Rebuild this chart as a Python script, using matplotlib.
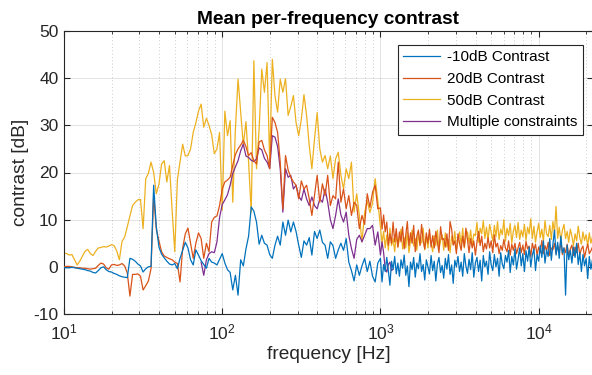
import numpy as np
import matplotlib
matplotlib.use("Agg")
from matplotlib import pyplot as plt
from matplotlib.ticker import LogLocator, MultipleLocator, NullFormatter

# frequency axis: 60 samples/decade below 1 kHz, 100 samples/decade above
freq = np.concatenate([np.logspace(1, 1 + 119 / 60, 120),
                       np.logspace(3, 3 + 135 / 100, 136)])

contrast_m10 = [
    # 10 Hz - 1 kHz
    -0.2, -0.2, -0.2, -0.1, -0.2, -0.3, -0.4, -0.5, -0.6, -0.8,
    -0.9, -1.2, -1.3, -0.8, -0.2, 0.0, -0.6, -1.0, -1.1, -1.4,
    -1.6, -1.9, -2.1, -2.2, -2.3, 1.8, 1.6, 1.2, 0.6, 0.2,
    -1.1, -0.4, 0.0, 0.1, 17.3, 8.5, 4.2, 2.7, 1.9, 1.2,
    0.6, 0.4, 0.7, -0.4, 1.8, 3.5, 5.2, 4.0, 1.5, 0.4,
    3.6, 2.5, 1.3, 0.5, -0.3, 1.8, 1.0, 0.8, 0.4, 1.6,
    2.8, 0.8, -0.6, -1.2, -4.9, -1.8, -6.0, 1.5, 0.2, 3.8,
    6.5, 12.7, 11.8, 9.5, 4.8, 6.7, 5.0, 4.6, 2.6, 1.8,
    4.6, 6.5, 4.6, 9.5, 6.7, 9.9, 7.4, 9.5, 7.5, 4.6,
    2.0, 5.5, 4.6, 6.2, 2.5, 7.5, 6.0, 7.8, 5.2, 4.6,
    1.8, 5.3, 4.5, 1.8, 3.6, 5.0, 3.5, 6.0, 1.0, -0.8,
    -3.0, 0.4, -1.8, 0.2, 1.8, -1.0, 1.2, -2.0, -3.2, 0.8,
    # 1 kHz - 22 kHz
    1.8, -3.2, 0.5, -1.0, 2.0, -0.8, -3.9, 1.2, -0.5, 2.2,
    -1.5, 0.8, -2.0, 1.5, -0.3, 2.5, -1.8, 0.2, -4.2, 1.0,
    -0.6, 2.0, -2.2, 0.8, -0.4, 2.8, -1.0, 0.5, -2.8, 1.5,
    0.0, -1.5, 2.4, -0.8, 1.2, -3.0, 0.6, 2.0, -1.2, 0.3,
    -2.4, 1.8, -0.5, 2.6, -1.6, 0.4, -3.5, 1.4, 0.0, 2.2,
    -1.0, 1.0, -2.0, 2.8, 0.2, -1.4, 1.6, -0.6, 3.0, -2.2,
    0.8, 2.0, -1.0, 1.4, -3.0, 2.4, 0.0, 1.2, -1.6, 3.2,
    0.4, -0.8, 2.6, 0.0, 1.8, -2.0, 3.0, 0.6, -0.4, 2.4,
    1.0, 3.5, -1.2, 2.2, 0.4, 3.8, -0.5, 1.6, 4.0, 0.2,
    2.8, -1.0, 3.4, 1.2, 4.2, 0.0, 2.5, 3.8, -0.8, 2.6,
    1.2, 4.5, 2.0, 5.5, 0.8, 3.6, 2.2, 6.0, 1.4, 4.8,
    7.8, 2.5, 5.2, 1.8, 6.5, 3.0, 4.0, -6.0, 4.6, 1.5,
    3.5, 0.8, 4.2, 2.0, 5.0, 0.5, 3.0, -1.0, 2.6, 0.2,
    1.8, -2.5, 2.2, -0.5, 1.5, 0.0,
]

contrast_20 = [
    0.0, 0.1, 0.1, 0.0, -0.1, -0.2, -0.2, -0.3, -0.3, -0.4,
    -0.5, -0.4, -0.3, 0.3, 0.8, 0.6, -0.2, -0.5, 0.4, 0.5,
    0.3, 0.4, 0.7, 0.2, -1.3, -6.2, -1.6, -1.6, -1.5, -2.0,
    -4.9, -4.0, -3.0, -0.4, 15.1, 8.0, 5.5, 3.2, 2.3, 2.0,
    1.7, 1.5, 1.0, 0.7, -3.2, 4.0, 7.0, 8.2, 5.0, 1.8,
    5.0, 7.2, 6.0, 1.8, 5.0, 3.2, 9.5, 10.5, 10.8, 13.0,
    16.5, 18.0, 18.4, 19.0, 21.5, 23.8, 25.0, 25.8, 26.8, 25.5,
    23.6, 24.2, 22.5, 21.8, 26.5, 26.8, 24.8, 23.6, 20.8, 31.7,
    30.6, 28.5, 22.2, 12.3, 23.6, 20.5, 19.0, 18.0, 17.3, 14.4,
    18.2, 16.5, 17.3, 14.4, 10.9, 15.1, 19.4, 13.7, 17.6, 15.1,
    19.4, 13.0, 15.1, 14.4, 22.2, 13.7, 16.5, 12.3, 15.1, 10.9,
    13.7, 13.0, 8.1, 10.9, 9.0, 15.5, 12.6, 15.8, 17.3, 12.3,
    12.5, 8.0, 11.0, 7.4, 9.5, 4.6, 7.0, 5.0, 9.5, 5.3,
    8.1, 4.2, 7.4, 5.3, 8.5, 3.8, 6.8, 9.6, 4.5, 7.2,
    5.0, 8.8, 3.2, 6.5, 7.8, 4.5, 9.0, 5.5, 3.8, 7.2,
    5.0, 8.0, 4.2, 6.6, 4.0, 7.5, 5.2, 3.0, 8.5, 5.8,
    6.0, 4.2, 7.0, 3.5, 9.6, 8.0, 4.6, 5.5, 2.8, 7.0,
    5.0, 3.5, 6.5, 4.2, 8.2, 5.8, 3.0, 6.0, 4.0, 5.5,
    2.5, 5.2, 7.5, 4.5, 6.5, 3.2, 5.0, 3.8, 6.2, 4.0,
    5.5, 3.0, 6.8, 4.2, 5.0, 2.8, 4.5, 3.5, 5.8, 4.0,
    3.2, 5.5, 2.5, 4.8, 3.5, 5.0, 2.8, 4.0, 5.2, 3.0,
    4.6, 2.6, 5.4, 3.8, 4.4, 2.2, 5.0, 3.6, 4.8, 2.5,
    4.2, 3.0, 5.6, 2.8, 4.5, 3.4, 5.2, 2.4, 4.0, 3.6,
    5.0, 2.8, 4.4, 3.2, 5.4, 2.6, 4.0, 3.0, 4.8, 2.2,
    3.8, 4.6, 2.4, 4.2, 3.0, 5.0, 2.6, 3.8, 4.4, 2.0,
    3.6, 4.8, 2.8, 3.4, 4.2, 3.0,
]

contrast_50 = [
    3.0, 2.8, 2.5, 2.6, 1.5, 0.4, 1.2, 2.3, 3.3, 3.7,
    2.8, 2.4, 3.3, 4.0, 4.1, 4.3, 4.2, 4.4, 4.7, 4.5,
    3.4, 1.5, 5.4, 6.3, 8.5, 10.8, 13.0, 13.7, 14.2, 14.3,
    8.1, 18.7, 19.8, 22.2, 20.0, 15.5, 17.5, 21.8, 22.5, 18.0,
    21.5, 12.0, 3.2, 18.5, 22.2, 26.0, 23.5, 23.6, 25.0, 28.5,
    30.5, 33.0, 34.5, 29.6, 31.5, 30.0, 28.0, 24.0, 25.0, 28.5,
    12.0, 33.0, 27.8, 31.0, 13.7, 29.3, 39.8, 32.8, 25.8, 30.8,
    22.2, 11.6, 43.7, 20.8, 29.3, 41.9, 37.0, 43.3, 22.2, 44.0,
    36.3, 32.8, 39.8, 37.0, 39.9, 32.1, 34.0, 36.3, 30.6, 27.8,
    31.3, 36.5, 32.1, 25.7, 20.8, 27.1, 32.7, 25.0, 22.2, 23.6,
    20.8, 23.5, 18.7, 22.9, 24.3, 19.4, 16.5, 20.8, 18.7, 22.2,
    11.6, 15.5, 10.9, 5.3, 11.5, 14.0, 11.5, 13.5, 18.7, 14.0,
    8.5, 5.0, 7.5, 4.0, 6.8, 3.5, 8.2, 4.5, 6.0, 3.2,
    7.0, 4.2, 5.8, 8.0, 3.8, 6.2, 4.0, 7.4, 3.0, 5.5,
    7.8, 4.4, 6.0, 3.5, 7.2, 4.8, 5.2, 8.2, 3.6, 6.4,
    4.0, 7.0, 5.0, 3.2, 6.6, 4.5, 7.8, 3.8, 5.6, 6.8,
    3.5, 7.2, 4.2, 5.8, 3.0, 6.5, 4.8, 7.5, 3.6, 5.4,
    7.4, 4.6, 8.2, 4.0, 6.6, 7.4, 5.0, 7.8, 4.6, 7.0,
    6.6, 9.4, 5.2, 8.2, 7.0, 9.8, 6.0, 8.4, 5.6, 9.0,
    7.2, 5.5, 8.8, 6.4, 9.6, 5.8, 8.0, 6.8, 10.0, 5.4,
    8.2, 6.6, 9.2, 5.0, 7.6, 8.8, 6.2, 9.4, 5.8, 7.8,
    6.4, 9.0, 5.6, 8.4, 7.0, 10.2, 6.0, 8.6, 5.2, 7.4,
    9.2, 6.2, 8.0, 5.4, 9.8, 7.0, 6.4, 8.8, 5.8, 9.6,
    7.2, 12.8, 6.0, 8.4, 5.5, 7.8, 9.0, 6.0, 7.5, 5.2,
    8.0, 6.5, 4.5, 7.0, 5.5, 8.6, 6.2, 4.8, 7.4, 5.6,
    6.8, 4.4, 7.2, 5.0, 6.4, 5.8,
]

# multiple constraints, drawn only where it is not hidden under the other curves
multi_start, multi_stop = 52, 129
contrast_multi = [
    1.0, -1.8, 1.5, 2.8, 3.2, 3.0, 5.3, 10.5,
    13.2, 14.2, 15.3, 17.3, 19.8, 21.2, 22.5, 24.6, 26.0, 23.5,
    23.2, 22.6, 22.3, 22.9, 25.2, 24.8, 23.0, 22.2, 20.8, 27.8,
    27.5, 25.5, 20.8, 11.6, 20.8, 19.0, 19.4, 16.5, 17.3, 15.0,
    14.1, 16.5, 14.4, 13.0, 14.8, 13.0, 12.3, 14.4, 13.7, 16.5,
    13.7, 10.0, 8.1, 10.9, 14.4, 11.0, 9.5, 11.6, 6.7, 3.9,
    1.8, 5.8, 6.7, 5.3, 6.7, 8.1, 8.1, 8.8, 4.6, 7.4,
    2.5, 5.3, 3.0, -0.4, -1.1, 0.5, 1.0, -0.8, -0.5,
]

labels = ["-10dB Contrast", "20dB Contrast", "50dB Contrast", "Multiple constraints"]
colors = ["#0072BD", "#D95319", "#EDB120", "#7E2F8E"]

plt.rcParams["font.family"] = ["Liberation Sans", "DejaVu Sans"]
plt.rcParams["mathtext.default"] = "regular"
plt.rcParams["axes.unicode_minus"] = False

fig = plt.figure(figsize=(5.92, 3.75), dpi=100)
ax = fig.add_axes([64 / 592, 61 / 375, 529 / 592, 283 / 375])

lw = 0.9
ax.plot(freq, contrast_m10, color=colors[0], lw=lw, label=labels[0], zorder=5)
ax.plot(freq, contrast_20, color=colors[1], lw=lw, label=labels[1], zorder=4)
ax.plot(freq, contrast_50, color=colors[2], lw=lw, label=labels[2], zorder=2)
ax.plot(freq[multi_start:multi_stop], contrast_multi, color=colors[3], lw=lw,
        label=labels[3], zorder=3)

ax.set_xscale("log")
ax.set_xlim(10, 22050)
ax.set_ylim(-10, 50)
ax.yaxis.set_major_locator(MultipleLocator(10))
ax.xaxis.set_major_locator(LogLocator(base=10, numticks=10))
ax.xaxis.set_minor_locator(LogLocator(base=10, subs=np.arange(2, 10), numticks=20))
ax.xaxis.set_minor_formatter(NullFormatter())

ax.grid(True, which="major", color="#262626", alpha=0.15, lw=0.6)
ax.grid(True, which="minor", axis="x", color="#262626", alpha=0.3, lw=0.6, ls=(0, (1, 3)))
ax.set_axisbelow(True)

for s in ax.spines.values():
    s.set_color("#262626")
    s.set_linewidth(0.8)
ax.tick_params(which="both", direction="in", top=True, right=True, colors="#262626",
               labelsize=12.5)
ax.tick_params(which="major", length=4)
ax.tick_params(which="minor", length=2.5)
ax.tick_params(axis="x", pad=6)
ax.tick_params(axis="y", pad=4)

ax.set_xlabel("frequency [Hz]", fontsize=13.75, color="#262626", labelpad=3)
ax.set_ylabel("contrast [dB]", fontsize=13.75, color="#262626", labelpad=3)
ax.set_title("Mean per-frequency contrast", fontsize=13.75, fontweight="bold", pad=5)

leg = ax.legend(loc="upper right", bbox_to_anchor=(583 / 592, 1 - 45 / 375),
                bbox_transform=fig.transFigure, borderaxespad=0, fontsize=11,
                frameon=True, fancybox=False, framealpha=1, edgecolor="#262626",
                handlelength=2.4, labelspacing=0.5, borderpad=0.35, handletextpad=0.5)
leg.get_frame().set_linewidth(0.8)

fig.savefig("out.png", dpi=100)
